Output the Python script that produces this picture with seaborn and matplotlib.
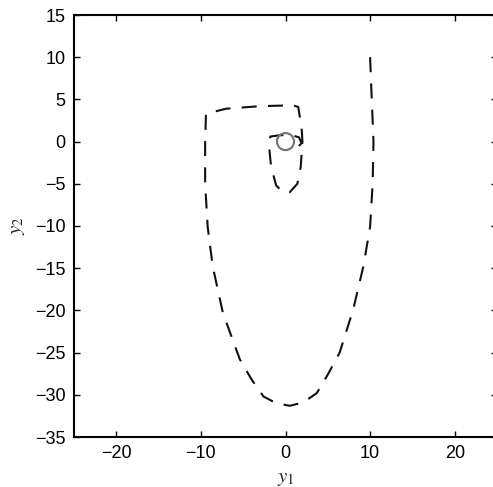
import numpy as np
import pandas as pd
import matplotlib
matplotlib.use('Agg')
import matplotlib.pyplot as plt
import seaborn as sns

# trajectory in the (y1, y2) phase plane
y1 = [10.0, 10.2, 10.4, 10.3, 10.0, 9.2, 8.0, 6.4, 5.0, 3.7, 2.1, 0.5, -1.1, -2.6,
      -4.0, -5.4, -7.4, -8.6, -9.2, -9.5, -9.5, -9.4, -7.0, -3.0, 0.9, 1.5, 1.9,
      2.0, 1.8, 1.4, 0.5, -0.3, -1.1, -1.7, -1.9, -1.8, -0.7, 0.6, 1.6, 1.9, 1.5,
      0.9, 0.4]
y2 = [10.0, 4.9, 0.0, -5.0, -10.1, -14.8, -19.9, -25.0, -27.6, -29.8, -30.9, -31.3,
      -31.0, -30.2, -28.2, -25.8, -20.3, -14.8, -10.1, -5.0, 0.0, 3.3, 3.9, 4.2,
      4.3, 4.1, 1.7, 0.0, -3.0, -5.0, -6.0, -6.0, -5.2, -3.0, -1.0, 0.6, 0.75,
      0.8, 0.5, -0.2, -0.6, -0.8, -0.8]

# equilibrium point
eq_y1 = [0.0]
eq_y2 = [0.0]

xticks = [-20, -10, 0, 10, 20]
yticks = [15, 10, 5, 0, -5, -10, -15, -20, -25, -30, -35]

sns.set_theme(style='ticks')
plt.rcParams['font.family'] = ['Liberation Sans', 'DejaVu Sans']
plt.rcParams['mathtext.fontset'] = 'stix'

traj = pd.DataFrame({'y1': y1, 'y2': y2})
eq = pd.DataFrame({'y1': eq_y1, 'y2': eq_y2})

fig = plt.figure(figsize=(4.93, 4.87), dpi=100)
ax = fig.add_axes([74 / 493, 50 / 487, 423 / 493, 422 / 487])

sns.lineplot(data=traj, x='y1', y='y2', sort=False, estimator=None,
             color='#111111', linewidth=1.5, ax=ax)
ax.lines[0].set_dashes((7.2, 5.4))

sns.scatterplot(data=eq, x='y1', y='y2', marker='o', s=150,
                facecolor='none', edgecolor='#777777', linewidth=1.6, ax=ax, zorder=3)

ax.set_xlim(-25, 25)
ax.set_ylim(-35, 15)
ax.set_xticks(xticks)
ax.set_yticks(yticks)
ax.set_xticklabels(['\u221220', '\u221210', '0', '10', '20'])
ax.set_yticklabels([str(t).replace('-', '\u2212') for t in yticks])
ax.tick_params(direction='in', length=4, width=1.0, top=True, right=True,
               labelsize=13, pad=6, colors='black')
for s in ax.spines.values():
    s.set_linewidth(1.5)
    s.set_color('black')

ax.set_xlabel('$y_1$', fontsize=15, labelpad=5)
ax.set_ylabel('$y_2$', fontsize=15, labelpad=6)

fig.savefig('out.png', dpi=100)
